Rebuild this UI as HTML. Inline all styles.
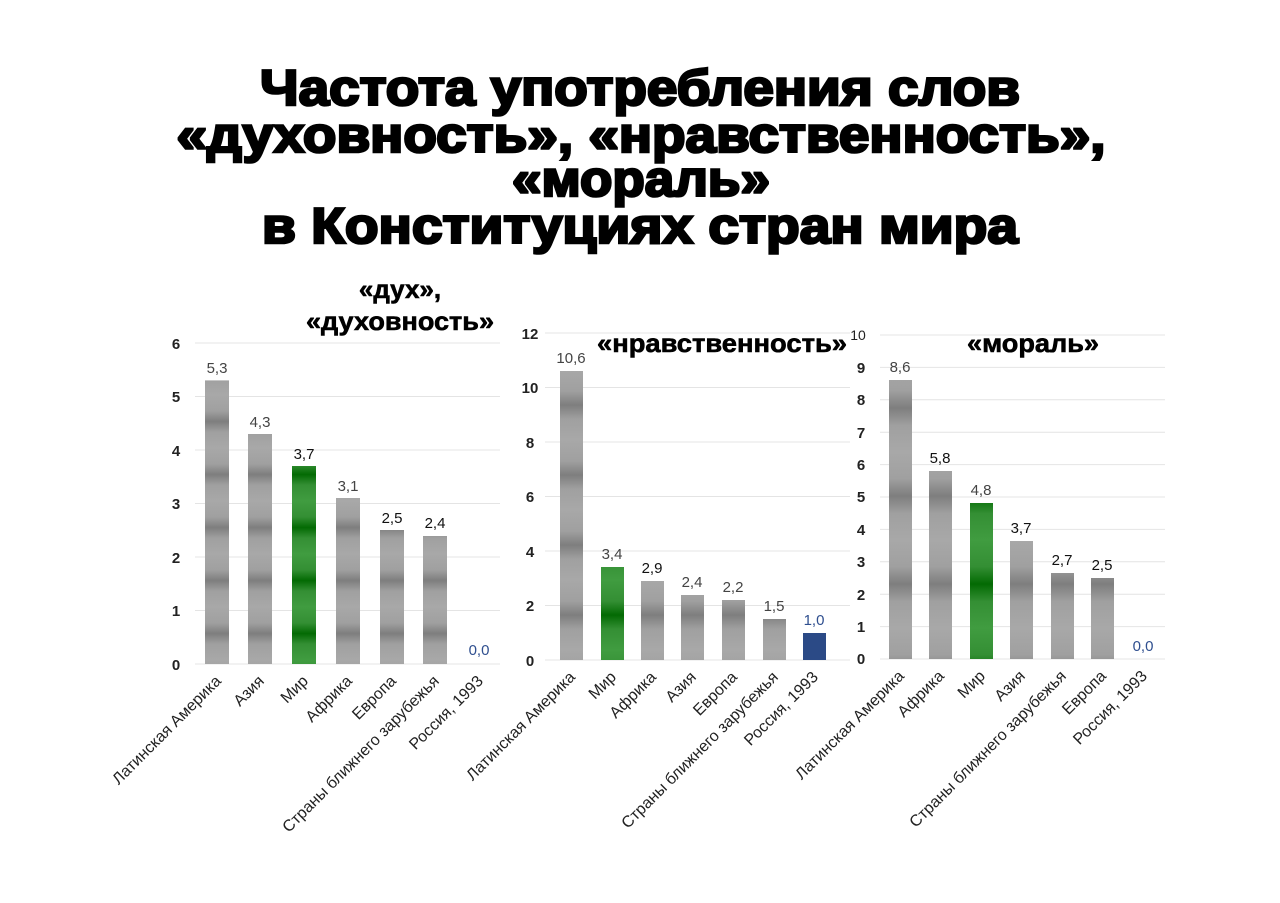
<!DOCTYPE html>
<html><head><meta charset="utf-8"><style>body{margin:0;background:#fff}svg{display:block}</style></head><body>
<svg width="1280" height="903" viewBox="0 0 1280 903" xmlns="http://www.w3.org/2000/svg" font-family="Liberation Sans, Arial, sans-serif">
<defs>
<linearGradient id="gb" x1="0" y1="0" x2="0" y2="1"><stop offset="0" stop-color="#a8a8a8"/><stop offset="0.3" stop-color="#a0a0a0"/><stop offset="0.5" stop-color="#7e7e7e"/><stop offset="0.7" stop-color="#a0a0a0"/><stop offset="1" stop-color="#a8a8a8"/></linearGradient>
<linearGradient id="gg" x1="0" y1="0" x2="0" y2="1"><stop offset="0" stop-color="#409c40"/><stop offset="0.3" stop-color="#348f34"/><stop offset="0.5" stop-color="#036a03"/><stop offset="0.7" stop-color="#348f34"/><stop offset="1" stop-color="#409c40"/></linearGradient>
<pattern id="p1" patternUnits="userSpaceOnUse" width="1280" height="53" y="24"><rect width="1280" height="53" fill="url(#gb)"/></pattern>
<pattern id="p1g" patternUnits="userSpaceOnUse" width="1280" height="53" y="24"><rect width="1280" height="53" fill="url(#gg)"/></pattern>
<pattern id="p2" patternUnits="userSpaceOnUse" width="1280" height="70" y="20"><rect width="1280" height="70" fill="url(#gb)"/></pattern>
<pattern id="p2g" patternUnits="userSpaceOnUse" width="1280" height="70" y="20"><rect width="1280" height="70" fill="url(#gg)"/></pattern>
<pattern id="p3" patternUnits="userSpaceOnUse" width="1280" height="88" y="12"><rect width="1280" height="88" fill="url(#gb)"/></pattern>
<pattern id="p3g" patternUnits="userSpaceOnUse" width="1280" height="88" y="12"><rect width="1280" height="88" fill="url(#gg)"/></pattern>
</defs>
<g font-weight="bold" font-size="50" text-anchor="middle" fill="#000" stroke="#000" stroke-width="2.6">
<text x="640" y="105" textLength="760" lengthAdjust="spacingAndGlyphs">Частота употребления слов</text>
<text x="641" y="152" textLength="929" lengthAdjust="spacingAndGlyphs">«духовность», «нравственность»,</text>
<text x="641" y="196" textLength="258" lengthAdjust="spacingAndGlyphs">«мораль»</text>
<text x="640" y="243" textLength="756" lengthAdjust="spacingAndGlyphs">в Конституциях стран мира</text>
</g>
<g font-weight="bold" font-size="26" fill="#000" text-anchor="middle" stroke="#000" stroke-width="0.6">
<text x="400" y="298">«дух»,</text>
<text x="400" y="330" textLength="188" lengthAdjust="spacingAndGlyphs">«духовность»</text>
<text x="722" y="352" textLength="250" lengthAdjust="spacingAndGlyphs">«нравственность»</text>
<text x="1033" y="352" textLength="132" lengthAdjust="spacingAndGlyphs">«мораль»</text>
</g>
<!-- chart 1 -->
<g stroke="#e4e4e4" stroke-width="1">
<line x1="195" x2="500" y1="343" y2="343"/><line x1="195" x2="500" y1="396.5" y2="396.5"/><line x1="195" x2="500" y1="450" y2="450"/><line x1="195" x2="500" y1="503.5" y2="503.5"/><line x1="195" x2="500" y1="557" y2="557"/><line x1="195" x2="500" y1="610.5" y2="610.5"/><line x1="195" x2="500" y1="664" y2="664"/>
</g>
<g font-size="15" fill="#222" text-anchor="middle" font-weight="bold">
<text x="176" y="349">6</text><text x="176" y="402">5</text><text x="176" y="456">4</text><text x="176" y="509">3</text><text x="176" y="563">2</text><text x="176" y="616">1</text><text x="176" y="670">0</text>
</g>
<rect x="205" y="380.4" width="24" height="283.6" fill="url(#p1)"/>
<rect x="248" y="434" width="24" height="230" fill="url(#p1)"/>
<rect x="292" y="466" width="24" height="198" fill="url(#p1g)"/>
<rect x="336" y="498" width="24" height="166" fill="url(#p1)"/>
<rect x="380" y="530" width="24" height="134" fill="url(#p1)"/>
<rect x="423" y="536" width="24" height="128" fill="url(#p1)"/>
<g font-size="15" text-anchor="middle" fill="#444">
<text x="217" y="373">5,3</text><text x="260" y="427">4,3</text><text x="304" y="459" fill="#111">3,7</text><text x="348" y="491">3,1</text><text x="392" y="523" fill="#111">2,5</text><text x="435" y="528" fill="#111">2,4</text><text x="479" y="655" fill="#2f4f8f">0,0</text>
</g>
<g font-size="16" fill="#222" text-anchor="end">
<text transform="translate(222,682) rotate(-45)">Латинская Америка</text>
<text transform="translate(265,682) rotate(-45)">Азия</text>
<text transform="translate(309,682) rotate(-45)">Мир</text>
<text transform="translate(353,682) rotate(-45)">Африка</text>
<text transform="translate(397,682) rotate(-45)">Европа</text>
<text transform="translate(440,682) rotate(-45)">Страны ближнего зарубежья</text>
<text transform="translate(484,682) rotate(-45)">Россия, 1993</text>
</g>
<!-- chart 2 -->
<g stroke="#e4e4e4" stroke-width="1">
<line x1="545" x2="850" y1="333" y2="333"/><line x1="545" x2="850" y1="387.5" y2="387.5"/><line x1="545" x2="850" y1="442" y2="442"/><line x1="545" x2="850" y1="496.5" y2="496.5"/><line x1="545" x2="850" y1="551" y2="551"/><line x1="545" x2="850" y1="605.5" y2="605.5"/><line x1="545" x2="850" y1="660" y2="660"/>
</g>
<g font-size="15" fill="#222" text-anchor="middle" font-weight="bold">
<text x="530" y="339">12</text><text x="530" y="393">10</text><text x="530" y="448">8</text><text x="530" y="502">6</text><text x="530" y="557">4</text><text x="530" y="611">2</text><text x="530" y="666">0</text>
</g>
<rect x="560" y="371" width="23" height="289" fill="url(#p2)"/>
<rect x="601" y="567" width="23" height="93" fill="url(#p2g)"/>
<rect x="641" y="581" width="23" height="79" fill="url(#p2)"/>
<rect x="681" y="595" width="23" height="65" fill="url(#p2)"/>
<rect x="722" y="600" width="23" height="60" fill="url(#p2)"/>
<rect x="763" y="619" width="23" height="41" fill="url(#p2)"/>
<rect x="803" y="633" width="23" height="27" fill="#2b4a86"/>
<g font-size="15" text-anchor="middle" fill="#444">
<text x="571" y="363">10,6</text><text x="612" y="559">3,4</text><text x="652" y="573" fill="#111">2,9</text><text x="692" y="587">2,4</text><text x="733" y="592">2,2</text><text x="774" y="611">1,5</text><text x="814" y="625" fill="#2f4f8f">1,0</text>
</g>
<g font-size="16" fill="#222" text-anchor="end">
<text transform="translate(576,678) rotate(-45)">Латинская Америка</text>
<text transform="translate(617,678) rotate(-45)">Мир</text>
<text transform="translate(657,678) rotate(-45)">Африка</text>
<text transform="translate(697,678) rotate(-45)">Азия</text>
<text transform="translate(738,678) rotate(-45)">Европа</text>
<text transform="translate(779,678) rotate(-45)">Страны ближнего зарубежья</text>
<text transform="translate(819,678) rotate(-45)">Россия, 1993</text>
</g>
<!-- chart 3 -->
<g stroke="#e4e4e4" stroke-width="1">
<line x1="880" x2="1165" y1="335" y2="335"/><line x1="880" x2="1165" y1="367.4" y2="367.4"/><line x1="880" x2="1165" y1="399.8" y2="399.8"/><line x1="880" x2="1165" y1="432.2" y2="432.2"/><line x1="880" x2="1165" y1="464.6" y2="464.6"/><line x1="880" x2="1165" y1="497" y2="497"/><line x1="880" x2="1165" y1="529.4" y2="529.4"/><line x1="880" x2="1165" y1="561.8" y2="561.8"/><line x1="880" x2="1165" y1="594.2" y2="594.2"/><line x1="880" x2="1165" y1="626.6" y2="626.6"/><line x1="880" x2="1165" y1="659" y2="659"/>
</g>
<g font-size="15" fill="#222" text-anchor="middle" font-weight="bold">
<text x="858" y="340" font-weight="normal" font-size="14">10</text><text x="861" y="373">9</text><text x="861" y="405">8</text><text x="861" y="438">7</text><text x="861" y="470">6</text><text x="861" y="502">5</text><text x="861" y="535">4</text><text x="861" y="567">3</text><text x="861" y="600">2</text><text x="861" y="632">1</text><text x="861" y="664">0</text>
</g>
<rect x="889" y="380" width="23" height="279" fill="url(#p3)"/>
<rect x="929" y="471" width="23" height="188" fill="url(#p3)"/>
<rect x="970" y="503" width="23" height="156" fill="url(#p3g)"/>
<rect x="1010" y="541" width="23" height="118" fill="url(#p3)"/>
<rect x="1051" y="573" width="23" height="86" fill="url(#p3)"/>
<rect x="1091" y="578" width="23" height="81" fill="url(#p3)"/>
<g font-size="15" text-anchor="middle" fill="#444">
<text x="900" y="372">8,6</text><text x="940" y="463" fill="#111">5,8</text><text x="981" y="495">4,8</text><text x="1021" y="533" fill="#111">3,7</text><text x="1062" y="565" fill="#111">2,7</text><text x="1102" y="570" fill="#111">2,5</text><text x="1143" y="651" fill="#2f4f8f">0,0</text>
</g>
<g font-size="16" fill="#222" text-anchor="end">
<text transform="translate(905,677) rotate(-45)">Латинская Америка</text>
<text transform="translate(945,677) rotate(-45)">Африка</text>
<text transform="translate(986,677) rotate(-45)">Мир</text>
<text transform="translate(1026,677) rotate(-45)">Азия</text>
<text transform="translate(1067,677) rotate(-45)">Страны ближнего зарубежья</text>
<text transform="translate(1107,677) rotate(-45)">Европа</text>
<text transform="translate(1148,677) rotate(-45)">Россия, 1993</text>
</g>
</svg>
</body></html>
